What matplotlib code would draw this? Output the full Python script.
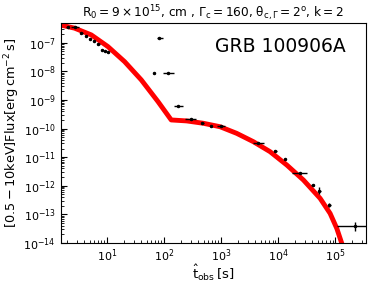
import matplotlib
matplotlib.use("Agg")
import matplotlib.pyplot as plt
import matplotlib.ticker as mticker
import numpy as np

plt.rcParams['mathtext.default'] = 'regular'

# Observed data points (time [s], flux [erg cm^-2 s^-1])
t_obs = [2.07, 2.71, 3.54, 4.34, 5.03, 5.9, 7.0, 8.2, 9.2, 10.5,
         66.8, 119, 81.7, 178, 294, 470, 668, 988,
         4510, 8970, 13300, 24300, 40600, 53100, 79400, 224000]
t_lo = [1.95, 2.37, 3.35, 4.15, 4.85, 5.7, 6.6, 7.9, 8.9, 10.1,
        63, 94.8, 74.5, 150, 233, 440, 640, 841,
        3690, 8500, 12700, 17400, 38000, 49500, 74000, 107000]
t_hi = [2.2, 3.18, 3.75, 4.55, 5.25, 6.1, 7.5, 8.5, 9.5, 10.9,
        71, 150, 94.8, 218, 363, 500, 700, 1175,
        5670, 9600, 14000, 31800, 43500, 57000, 86000, 400000]
flux = [3.7e-7, 3.7e-7, 2.3e-7, 1.76e-7, 1.4e-7, 1.2e-7, 9.0e-8, 5.7e-8, 5.0e-8, 4.6e-8,
        8.7e-9, 8.7e-9, 1.46e-7, 6.1e-10, 2.1e-10, 1.55e-10, 1.23e-10, 1.23e-10,
        3.05e-11, 1.68e-11, 8.3e-12, 2.84e-12, 1.05e-12, 6.65e-13, 2.09e-13, 3.9e-14]
flux_lo = [3.5e-7, 3.5e-7, 2.2e-7, 1.68e-7, 1.34e-7, 1.15e-7, 8.5e-8, 5.4e-8, 4.75e-8, 4.4e-8,
           8.3e-9, 8.3e-9, 1.38e-7, 5.8e-10, 1.95e-10, 1.47e-10, 1.16e-10, 1.16e-10,
           2.85e-11, 1.58e-11, 7.8e-12, 2.6e-12, 9.5e-13, 5.0e-13, 1.8e-13, 2.6e-14]
flux_hi = [3.9e-7, 3.9e-7, 2.4e-7, 1.84e-7, 1.46e-7, 1.25e-7, 9.5e-8, 6.0e-8, 5.25e-8, 4.8e-8,
           9.1e-9, 9.1e-9, 1.54e-7, 6.4e-10, 2.25e-10, 1.63e-10, 1.3e-10, 1.3e-10,
           3.25e-11, 1.78e-11, 8.8e-12, 3.1e-12, 1.15e-12, 8.7e-13, 2.4e-13, 5.5e-14]

# Model curve
t_model = [1.48, 2.71, 5.31, 10.4, 20.4, 40, 78.5, 134, 250, 489, 959, 1880,
           3690, 7240, 14200, 27800, 54600, 81700, 107000, 131000]
f_model = [4.28e-7, 3.27e-7, 1.9e-7, 7.4e-8, 2.2e-8, 5.05e-9, 8.8e-10, 2.0e-10,
           1.85e-10, 1.53e-10, 1.16e-10, 6.8e-11, 3.47e-11, 1.55e-11, 5.3e-12,
           1.58e-12, 3.6e-13, 1.07e-13, 3.2e-14, 9.5e-15]

fig = plt.figure(figsize=(3.74, 2.83), dpi=100)
ax = fig.add_axes([0.162, 0.142, 0.817, 0.778])

t = np.array(t_obs)
f = np.array(flux)
xerr = [t - np.array(t_lo), np.array(t_hi) - t]
yerr = [f - np.array(flux_lo), np.array(flux_hi) - f]

ax.plot(t_model, f_model, color='red', lw=3.5, zorder=2)
ax.errorbar(t, f, xerr=xerr, yerr=yerr, fmt='.', color='black', ms=3,
            elinewidth=1.0, capsize=0, zorder=3)

ax.set_xscale('log')
ax.set_yscale('log')
ax.set_xlim(1.54, 3.5e5)
ax.set_ylim(1e-14, 5.1e-7)

for axis in (ax.xaxis, ax.yaxis):
    axis.set_major_locator(mticker.LogLocator(base=10, numticks=30))
    axis.set_minor_locator(mticker.LogLocator(base=10, subs=np.arange(2, 10), numticks=30))
    axis.set_minor_formatter(mticker.NullFormatter())

ax.tick_params(which='both', direction='in', top=False, right=False, labelsize=8)
ax.tick_params(which='major', length=4)
ax.tick_params(which='minor', length=2)

ax.set_xlabel(r'$\hat{t}_{obs}\,[s]$', fontsize=9.5, labelpad=-1)
ax.set_ylabel(r'$[0.5-10keV]Flux[erg\,cm^{-2}\,s]$', fontsize=9.3, labelpad=1)
ax.set_title(r'$R_0 = 9\times10^{15}$, cm , $\Gamma_c = 160$, $\theta_{c,\Gamma} = 2^o$, $k = 2$',
             fontsize=8.7, pad=3)
ax.text(0.718, 0.89, 'GRB 100906A', transform=ax.transAxes, fontsize=13.5,
        ha='center', va='center')

fig.savefig('out.png', dpi=100)
